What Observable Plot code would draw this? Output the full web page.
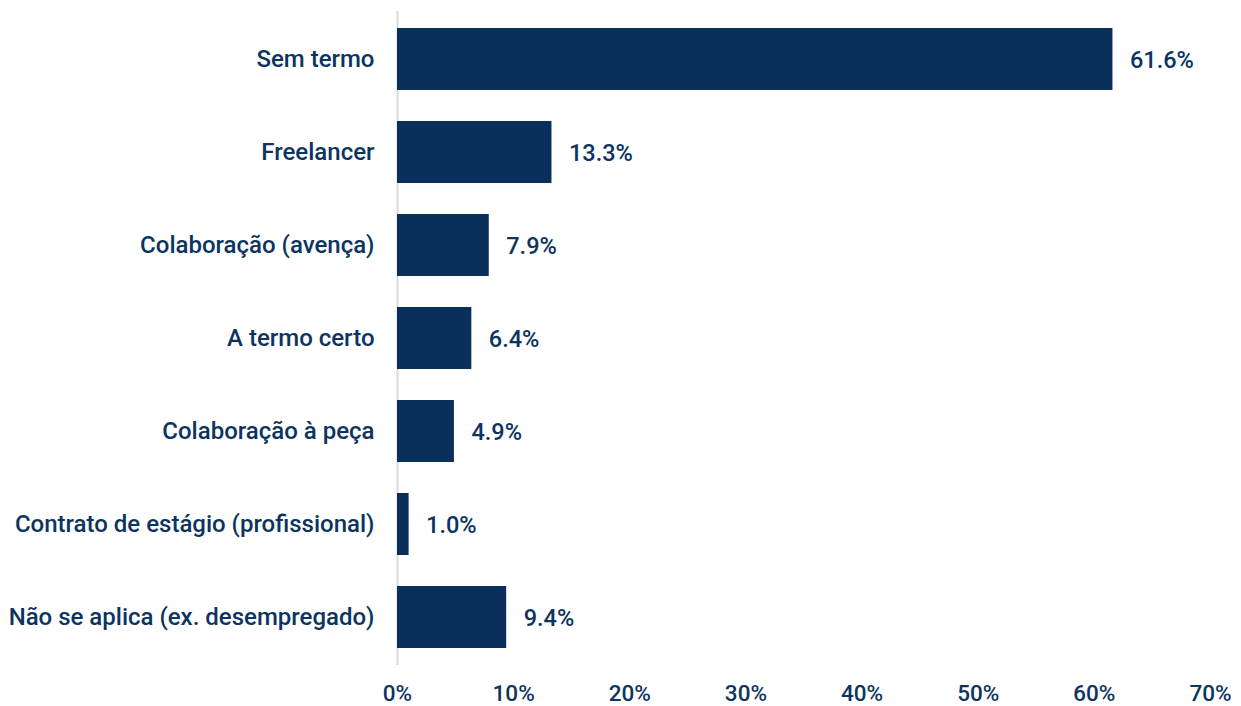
<!DOCTYPE html>
<html>
<head>
<meta charset="utf-8">
<script src="https://cdn.jsdelivr.net/npm/d3@7"></script>
<script src="https://cdn.jsdelivr.net/npm/@observablehq/plot@0.6"></script>
<style>
  html, body { margin: 0; padding: 0; background: #fff; }
  #chart svg { display: block; }
</style>
</head>
<body>
<div id="chart"></div>
<script>
const categories = [
  "Sem termo",
  "Freelancer",
  "Colaboração (avença)",
  "A termo certo",
  "Colaboração à peça",
  "Contrato de estágio (profissional)",
  "Não se aplica (ex. desempregado)"
];
const values = [61.6, 13.3, 7.9, 6.4, 4.9, 1.0, 9.4];
const xTicks = [0, 10, 20, 30, 40, 50, 60, 70];

const data = categories.map((c, i) => ({category: c, value: values[i]}));

const barColor = "#0a2f5a";
const textColor = "#0d3460";

const chart = Plot.plot({
  width: 1241,
  height: 706,
  marginLeft: 397,
  marginRight: 31,
  marginTop: 11,
  marginBottom: 41,
  style: {fontFamily: "Roboto, sans-serif", fontSize: "24px", fontWeight: 500, color: textColor, background: "#fff"},
  x: {domain: [0, 70], ticks: xTicks, label: null},
  y: {domain: categories, paddingInner: 0.335, paddingOuter: 0.1675, label: null},
  marks: [
    Plot.ruleX([0], {stroke: "#d9d9d9", strokeWidth: 2}),
    Plot.barX(data, {x: "value", y: "category", fill: barColor}),
    Plot.text(data, {
      x: "value", y: "category",
      text: d => d.value.toFixed(1) + "%",
      textAnchor: "start", dx: 17, dy: 1,
      fill: textColor, fontSize: 23.5, fontWeight: 500
    }),
    Plot.axisX({
      ticks: xTicks, tickSize: 0, tickPadding: 20,
      tickFormat: d => d + "%", fill: textColor, fontSize: 22.5, fontWeight: 500, label: null
    }),
    Plot.axisY({
      tickSize: 0, tickPadding: 23, fill: textColor, fontSize: 24, fontWeight: 500, label: null
    })
  ]
});
document.getElementById("chart").appendChild(chart);
</script>
</body>
</html>
